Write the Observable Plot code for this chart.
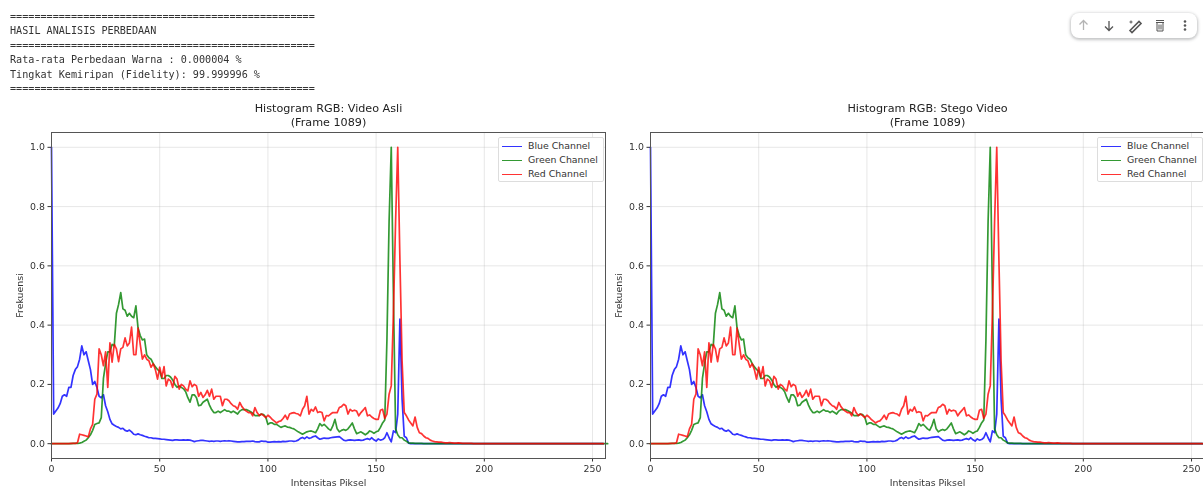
<!DOCTYPE html>
<html><head><meta charset="utf-8">
<script src="https://cdn.jsdelivr.net/npm/d3@7"></script>
<script src="https://cdn.jsdelivr.net/npm/@observablehq/plot@0.6"></script>
<style>
html,body{margin:0;padding:0;background:#fff;width:1203px;height:486px;overflow:hidden}
#page{position:relative;width:1203px;height:486px;overflow:hidden;filter:blur(.35px)}
#out{position:absolute;left:10px;top:9.5px;margin:0;font:10.13px/14.6px "DejaVu Sans Mono",monospace;color:#333;white-space:pre}
.chart{position:absolute;top:100px}
.legend{position:absolute;top:137px;width:106px;height:45px;box-sizing:border-box;background:#fff;border:1px solid #ddd;border-radius:2px;font:9.4px/14px "DejaVu Sans",sans-serif;color:#333;padding:1px 0 0 3px;white-space:nowrap}
.legend div{display:flex;align-items:center;height:14.2px;white-space:nowrap}
.legend i{display:block;flex:0 0 20px;width:20px;height:0;border-top:1.7px solid;margin-right:6.5px;opacity:.8}
#bar{position:absolute;left:1071px;top:13px;width:126px;height:25px;box-sizing:border-box;background:#fff;border-radius:8px;box-shadow:0 1px 3px 1px rgba(60,64,67,.3)}
#bar svg{position:absolute;left:0;top:0}
</style></head><body>
<div id="page">
<pre id="out"></pre>
<div id="bar"></div>
</div>
<script>
const consoleLines = [
  "==================================================",
  "HASIL ANALISIS PERBEDAAN",
  "==================================================",
  "Rata-rata Perbedaan Warna : 0.000004 %",
  "Tingkat Kemiripan (Fidelity): 99.999996 %",
  "=================================================="
];
const xTicks = [0, 50, 100, 150, 200, 250];
const yTicks = [0, 0.2, 0.4, 0.6, 0.8, 1.0];
const channelNames = ["Blue Channel", "Green Channel", "Red Channel"];
const channelColors = ["blue", "green", "red"];
const panelTitles = ["Histogram RGB: Video Asli\n(Frame 1089)", "Histogram RGB: Stego Video\n(Frame 1089)"];

const blue = [
1.0,.10,.11,.12,.135,.16,.165,.16,.19,.19,
.23,.25,.26,.285,.33,.30,.31,.28,.25,.20,
.21,.19,.16,.155,.165,.128,.108,.082,.067,.062,
.058,.055,.05,.052,.045,.042,.046,.04,.032,.03,
.033,.03,.028,.025,.023,.02,.02,.018,.018,.017,
.016,.015,.015,.014,.013,.012,.011,.013,.013,.012,
.012,.013,.012,.013,.012,.010,.007,.009,.010,.011,
.011,.010,.009,.008,.009,.008,.009,.009,.008,.009,
.010,.009,.010,.009,.008,.007,.006,.006,.007,.007,
.008,.008,.008,.009,.007,.006,.006,.009,.008,.008,
.005,.005,.006,.007,.006,.007,.006,.008,.007,.008,
.009,.009,.008,.009,.012,.018,.021,.017,.023,.018,
.02,.024,.026,.02,.015,.017,.019,.018,.018,.02,
.021,.022,.023,.024,.018,.012,.01,.012,.013,.012,
.011,.012,.013,.011,.012,.015,.017,.014,.02,.013,
.009,.016,.012,.014,.02,.037,.02,.006,.043,.037,
.10,.42,.15,.025,.02,.002,0,0,0,0,
0,0,0,0,0,0,0,0,0,0,0,0,0,0,0,0,0,0,0,0,
0,0,0,0,0,0,0,0,0,0,0,0,0,0,0,0,0,0,0,0,
0,0,0,0,0,0,0,0,0,0,0,0,0,0,0,0,0,0,0,0,
0,0,0,0,0,0,0,0,0,0,0,0,0,0,0,0,0,0,0,0,
0,0,0,0,0,0
];
const green = [
0,0,0,0,0,0,0,0,0,0,
.001,.001,.001,.002,.004,.008,.012,.02,.03,.045,
.065,.068,.07,.088,.22,.27,.31,.31,.335,.33,
.44,.47,.51,.455,.45,.43,.44,.43,.425,.465,
.39,.365,.35,.353,.30,.29,.285,.27,.26,.25,
.245,.22,.22,.23,.23,.225,.215,.20,.19,.195,
.19,.185,.175,.155,.14,.165,.165,.155,.128,.13,
.14,.145,.15,.13,.115,.105,.105,.11,.105,.11,
.115,.11,.11,.105,.11,.105,.10,.11,.115,.115,
.115,.112,.108,.103,.095,.095,.095,.10,.098,.09,
.065,.07,.07,.065,.065,.06,.055,.058,.06,.056,
.055,.052,.05,.045,.04,.036,.032,.036,.04,.042,
.043,.04,.037,.05,.068,.06,.065,.058,.05,.045,
.06,.082,.05,.04,.045,.048,.045,.05,.06,.07,
.05,.034,.037,.04,.035,.03,.035,.043,.04,.035,
.04,.043,.055,.07,.08,.35,.75,1.0,.50,.05,
.03,.02,.02,.012,.008,.003,.002,.002,.001,.001,
.001,.001,0,0,0,0,0,0,0,0,0,0,0,0,0,0,0,0,0,0,
0,0,0,0,0,0,0,0,0,0,0,0,0,0,0,0,0,0,0,0,
0,0,0,0,0,0,0,0,0,0,0,0,0,0,0,0,0,0,0,0,
0,0,0,0,0,0,0,0,0,0,0,0,0,0,0,0,0,0,0,0,
0,0,0,0,0,0,0,0
];
const red = [
0,0,0,0,0,0,0,0,0,.001,
.001,.001,.003,.032,.03,.028,.026,.023,.05,.065,
.15,.167,.32,.30,.263,.31,.19,.34,.275,.335,
.32,.277,.32,.325,.357,.33,.34,.393,.30,.30,
.39,.335,.285,.30,.285,.28,.258,.27,.25,.218,
.258,.224,.26,.195,.218,.212,.19,.227,.218,.184,
.20,.195,.184,.178,.212,.192,.20,.195,.16,.173,
.156,.165,.18,.16,.184,.15,.16,.16,.16,.128,
.15,.15,.145,.135,.128,.125,.116,.139,.125,.116,
.11,.105,.105,.094,.122,.105,.095,.10,.095,.088,
.096,.09,.082,.076,.07,.075,.077,.085,.096,.082,
.10,.103,.105,.102,.10,.094,.116,.128,.16,.10,
.116,.11,.124,.105,.108,.105,.077,.095,.094,.10,
.105,.105,.105,.122,.125,.133,.128,.10,.116,.11,
.113,.11,.094,.105,.113,.122,.094,.097,.09,.085,
.082,.082,.113,.116,.085,.10,.167,.195,.44,.75,
1.0,.62,.28,.105,.094,.08,.07,.06,.09,.055,
.037,.034,.026,.02,.018,.012,.009,.007,.006,.005,
.005,.004,.003,.003,.004,.003,.002,.002,.003,.002,
.001,.001,.001,.001,.001,0,0,0,0,0,
0,0,0,0,0,0,0,0,0,0,0,0,0,0,0,0,0,0,0,0,
0,0,0,0,0,0,0,0,0,0,0,0,0,0,0,0,0,0,0,0,
0,0,0,0,0,0,0,0,0,0,0,0,0,0,0,0
];
const series = [blue, green, red];

document.getElementById("out").textContent = consoleLines.join("\n");

function panel(title, left, width, marginRight, legendLeft) {
  const lines = series.map((values, k) =>
    Plot.line(values, {x: (d, i) => i, y: d => d, stroke: channelColors[k], strokeOpacity: 0.8, strokeWidth: 1.7, curve: "linear"}));
  const chart = Plot.plot({
    width, height: 386, marginLeft: 51, marginRight, marginTop: 32, marginBottom: 28,
    style: {fontFamily: "DejaVu Sans, sans-serif", fontSize: "9.4px", color: "#333", background: "transparent", overflow: "visible"},
    x: {domain: [0, 256], ticks: xTicks, tickFormat: d => d, tickSize: 3.5, tickPadding: 3, label: "Intensitas Piksel", labelAnchor: "center", labelOffset: 27, labelArrow: "none", line: false},
    y: {domain: [-0.05, 1.05], ticks: yTicks, tickFormat: d3.format(".1f"), tickSize: 3.5, tickPadding: 3, label: "Frekuensi", labelAnchor: "center", labelOffset: 35, labelArrow: "none", line: false},
    marks: [
      Plot.gridX(xTicks, {stroke: "#b0b0b0", strokeOpacity: 0.3, strokeWidth: 1}),
      Plot.gridY(yTicks, {stroke: "#b0b0b0", strokeOpacity: 0.3, strokeWidth: 1}),
      ...lines,
      Plot.frame({stroke: "#555", strokeWidth: 1}),
      Plot.text([title], {frameAnchor: "top", dy: -30, lineAnchor: "top", fontSize: 11.2, lineHeight: 1.24, fill: "#222"})
    ]
  });
  chart.classList.add("chart");
  chart.style.left = left + "px";
  document.getElementById("page").appendChild(chart);

  const legend = document.createElement("div");
  legend.className = "legend";
  legend.style.left = legendLeft + "px";
  channelNames.forEach((name, k) => {
    const row = document.createElement("div");
    const swatch = document.createElement("i");
    swatch.style.borderColor = channelColors[k];
    row.appendChild(swatch);
    row.appendChild(document.createTextNode(name));
    legend.appendChild(row);
  });
  document.getElementById("page").appendChild(legend);
}
panel(panelTitles[0], 0, 615, 10, 497.5);
panel(panelTitles[1], 599, 605, 0, 1096.5);

document.getElementById("bar").innerHTML = `<svg width="126" height="25" fill="none" stroke-width="1.3">
<g stroke="#b4b4b4"><path d="M12.5 17V8M8.5 11.5l4-4 4 4"/></g>
<g stroke="#555"><path d="M38 8v9M34 13.5l4 4 4-4"/>
<path d="M59 17.5l9-9 2 2-9 9z" stroke-width="1.6"/><path d="M60 7.5v3M58.5 9h3" stroke-width="1"/>
<path d="M85 9.5h8M86 9.5v8.5h6v-8.5M85 7.5h8M88 11.5v5M90 11.5v5" stroke-width="1"/></g>
<g fill="#555" stroke="none"><circle cx="114" cy="8.5" r="1.3"/><circle cx="114" cy="12.5" r="1.3"/><circle cx="114" cy="16.5" r="1.3"/></g></svg>`;
</script>
</body></html>
